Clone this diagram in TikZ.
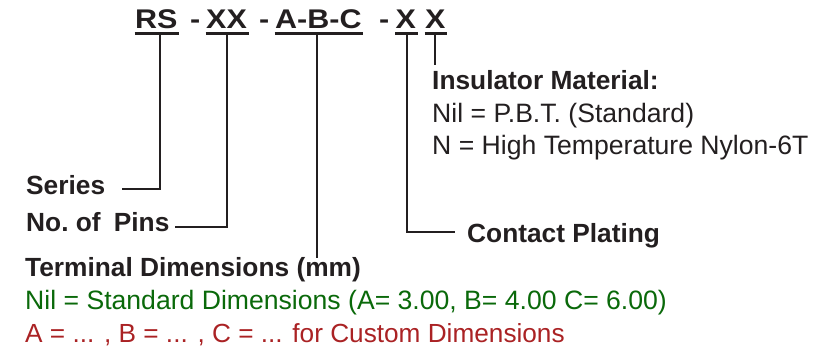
\documentclass[tikz,border=0pt]{standalone}
\usepackage{fontspec}
\setmainfont{Liberation Sans}
\newfontfamily\titlefont[FakeStretch=1.13]{Liberation Sans}
\definecolor{ink}{RGB}{35,31,32}
\definecolor{dimgreen}{RGB}{10,105,10}
\definecolor{dimred}{RGB}{170,34,36}
\begin{document}
\begin{tikzpicture}[x=1pt,y=-1pt,
  title/.style={font=\titlefont\fontsize{27}{32}\selectfont\bfseries, text=ink, inner sep=0pt, anchor=base west},
  lbl/.style={font=\fontsize{26.3}{31}\selectfont\bfseries, text=ink, inner sep=0pt, anchor=base west},
  txt/.style={font=\fontsize{26.6}{31}\selectfont, text=ink, inner sep=0pt, anchor=base west},
  uline/.style={draw=ink, line width=2.6pt},
  conn/.style={draw=ink, line width=2pt}]
\useasboundingbox (0,0) rectangle (822,347);
% title parts
\node[title] (rs) at (135,29) {RS};
\node[title] (d1) at (190,29) {-};
\node[title] (xx) at (206,29) {XX};
\node[title] (d2) at (259,29) {-};
\node[title] (abc) at (275,29) {A-B-C};
\node[title] (d3) at (379,29) {-};
\node[title] (xa) at (395.5,29) {X};
\node[title] (xb) at (425,29) {X};
% underlines
\foreach \n in {rs,xx,abc,xa,xb}{
  \draw[uline] ([xshift=-0.5pt,yshift=-4.5pt]\n.base west) -- ([xshift=1.5pt,yshift=-4.5pt]\n.base east);
}
\coordinate (rsu) at ([xshift=4pt,yshift=-5pt]rs.base);
\coordinate (xxu) at ([yshift=-5pt]xx.base);
\coordinate (abcu) at ([xshift=-1.5pt,yshift=-5pt]abc.base);
\coordinate (xau) at ([xshift=1pt,yshift=-5pt]xa.base);
\coordinate (xbu) at ([yshift=-5pt]xb.base);
% labels
\node[lbl] (series) at (26,195) {Series};
\node[lbl] (pins) at (26,232) {No.\ of\hspace{0.5em}Pins};
\node[lbl] (term) at (25,277) {Terminal Dimensions (mm)};
\node[txt, text=dimgreen] (nil) at (25,310) {Nil = Standard Dimensions (A= 3.00, B= 4.00 C= 6.00)};
\node[txt, text=dimred, font=\fontsize{26.2}{31}\selectfont] (cust) at (25,342) {A = ... , B = ... , C = ... for Custom Dimensions};
\node[lbl] (ins) at (432,90) {Insulator Material:};
\node[txt] (pbt) at (432,123) {Nil = P.B.T. (Standard)};
\node[txt] (nyl) at (432,155) {N = High Temperature Nylon-6T};
\node[lbl] (plat) at (467,243) {Contact Plating};
% connector ends
\coordinate (seriesEnd) at (122,189);
\coordinate (pinsEnd) at (175,227);
\coordinate (termEnd) at (320,258);
\coordinate (platEnd) at (455,232);
\coordinate (insEnd) at (436,65);
% connectors
\draw[conn] (rsu) |- (seriesEnd);
\draw[conn] (xxu) |- (pinsEnd);
\draw[conn] (abcu) -- (abcu |- termEnd);
\draw[conn] (xau) |- (platEnd);
\draw[conn] (xbu) -- (xbu |- insEnd);
\end{tikzpicture}
\end{document}
